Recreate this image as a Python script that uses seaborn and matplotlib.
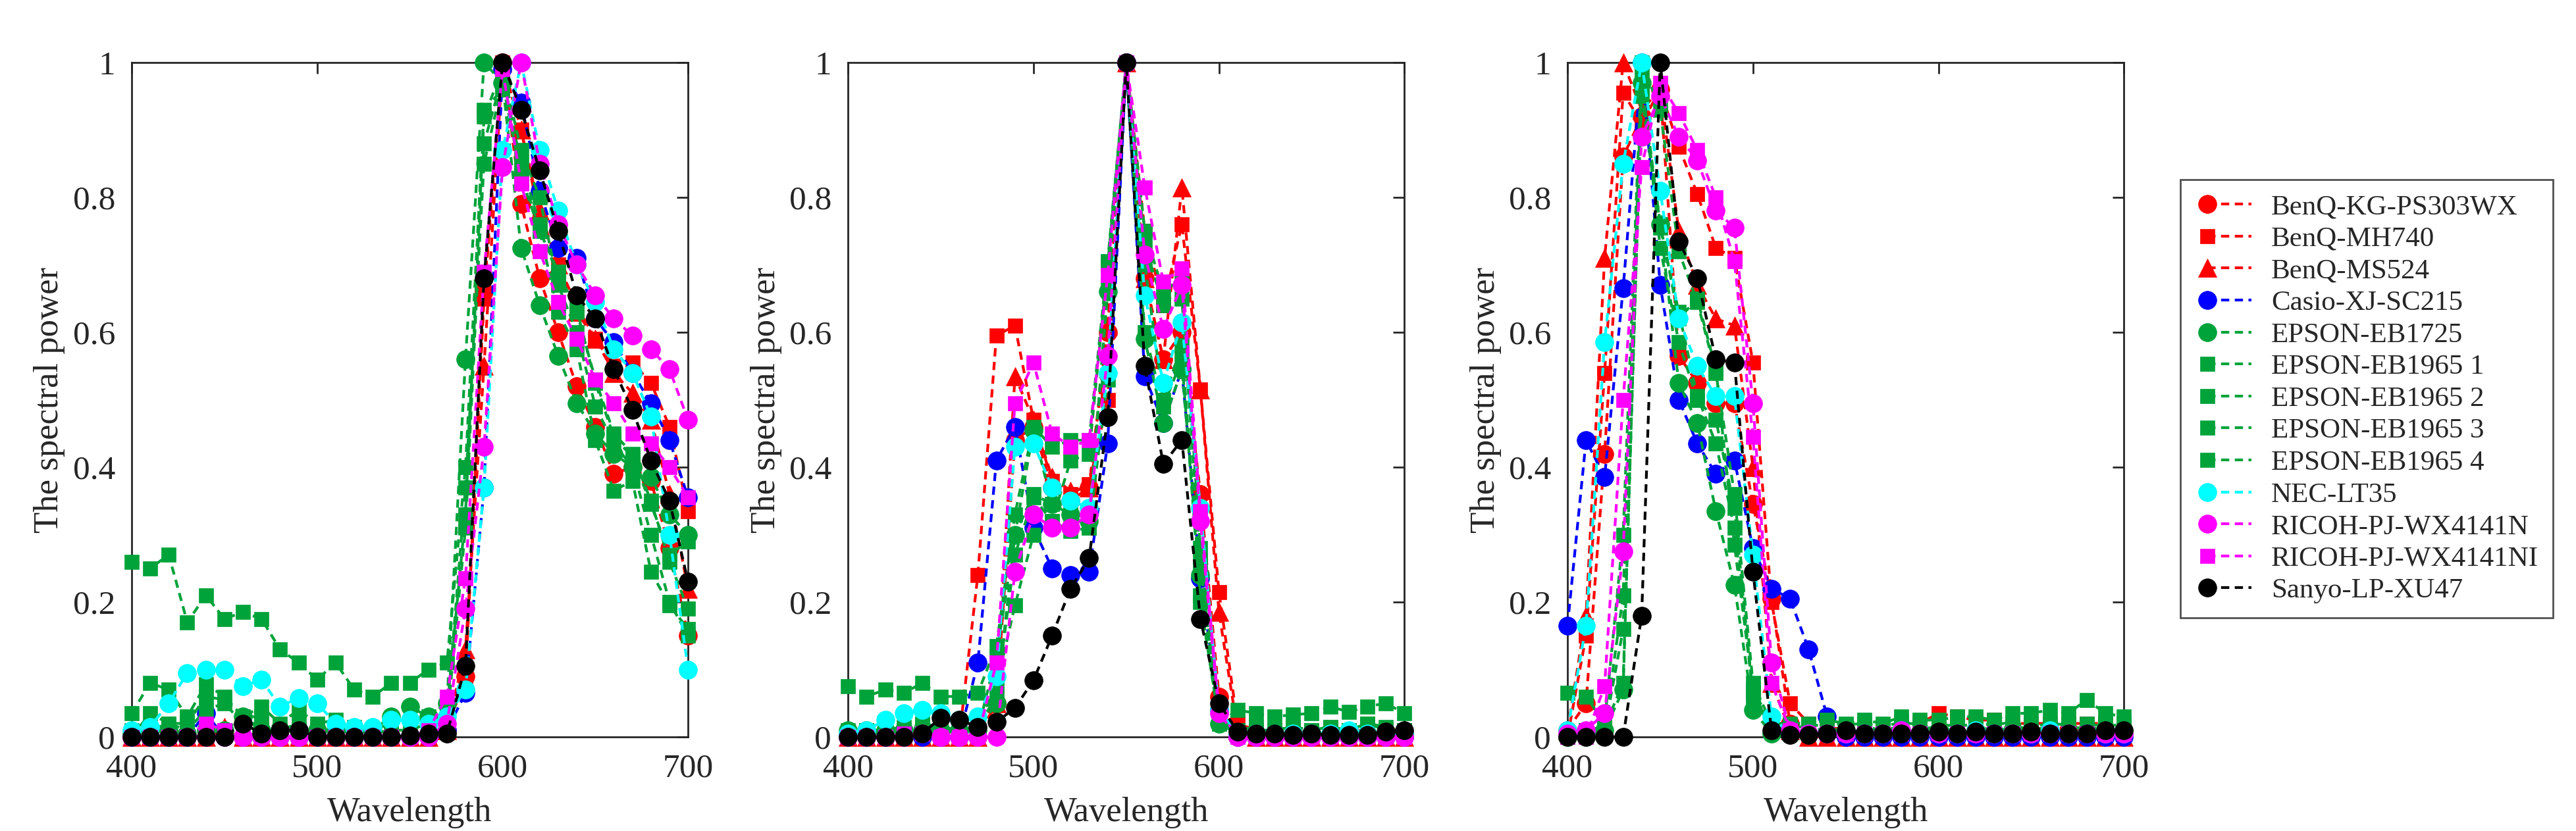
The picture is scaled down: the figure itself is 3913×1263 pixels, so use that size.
"""
Normalised spectral power of 13 projectors, red / green / blue channels
"""

import matplotlib
matplotlib.use('Agg')
import matplotlib.pyplot as plt
from matplotlib.lines import Line2D
from matplotlib.legend_handler import HandlerLine2D
import seaborn as sns

# x axis (nm)
wavelength = [400, 410, 420, 430, 440, 450, 460, 470, 480, 490, 500,
              510, 520, 530, 540, 550, 560, 570, 580, 590, 600,
              610, 620, 630, 640, 650, 660, 670, 680, 690, 700]

projectors = ['BenQ-KG-PS303WX', 'BenQ-MH740', 'BenQ-MS524', 'Casio-XJ-SC215',
              'EPSON-EB1725', 'EPSON-EB1965 1', 'EPSON-EB1965 2', 'EPSON-EB1965 3',
              'EPSON-EB1965 4', 'NEC-LT35', 'RICOH-PJ-WX4141N', 'RICOH-PJ-WX4141NI',
              'Sanyo-LP-XU47']

# ---- panel 1 (red channel) ----
p1_benq_kg = [0, 0, 0, 0, 0, 0, 0, 0, 0, 0, 0, 0, 0, 0, 0, 0, 0, 0.01, 0.09, 0.66, 1.00,
              0.79, 0.68, 0.60, 0.52, 0.46, 0.39, 0.40, 0.38, 0.28, 0.15]
p1_benq_mh = [0, 0, 0, 0, 0, 0.01, 0, 0, 0, 0, 0, 0, 0, 0, 0, 0, 0, 0.01, 0.09, 0.65, 1.00,
              0.90, 0.77, 0.70, 0.64, 0.59, 0.55, 0.555, 0.525, 0.46, 0.335]
p1_benq_ms = [0, 0, 0, 0, 0, 0.015, 0, 0, 0, 0, 0, 0, 0, 0, 0, 0, 0, 0.01, 0.13, 0.55, 1.00,
              0.90, 0.78, 0.70, 0.63, 0.59, 0.54, 0.51, 0.47, 0.36, 0.22]
p1_casio = [0, 0, 0, 0, 0.035, 0, 0, 0, 0, 0, 0, 0, 0, 0, 0, 0, 0, 0.01, 0.065, 0.37, 0.99,
            0.94, 0.81, 0.725, 0.71, 0.62, 0.585, 0.54, 0.495, 0.44, 0.355]
p1_eb1725 = [0.005, 0.01, 0.01, 0.005, 0.01, 0.01, 0.03, 0.01, 0.01, 0.01, 0.01, 0.01, 0.01, 0.01,
             0.03, 0.045, 0.03, 0.05, 0.56, 1.00, 0.97, 0.725, 0.64, 0.565, 0.495, 0.45, 0.42,
             0.40, 0.385, 0.33, 0.30]
p1_eb1965_1 = [0.26, 0.25, 0.27, 0.17, 0.21, 0.175, 0.185, 0.175, 0.13, 0.11, 0.085, 0.11, 0.07,
               0.06, 0.08, 0.08, 0.10, 0.11, 0.40, 0.93, 0.96, 0.84, 0.75, 0.69, 0.63, 0.53, 0.45,
               0.42, 0.35, 0.26, 0.19]
p1_eb1965_2 = [0.035, 0.08, 0.07, 0.03, 0.078, 0.06, 0.03, 0.045, 0.02, 0.04, 0.02, 0.025, 0.015,
               0.01, 0.02, 0.02, 0.03, 0.04, 0.33, 0.92, 0.99, 0.87, 0.80, 0.67, 0.60, 0.49, 0.435,
               0.40, 0.30, 0.20, 0.15]
p1_eb1965_3 = [0.0, 0.035, 0.02, 0.02, 0.06, 0.055, 0.03, 0.03, 0.01, 0.02, 0.01, 0.01, 0.01,
               0.005, 0.01, 0.01, 0.02, 0.03, 0.37, 0.85, 0.97, 0.83, 0.75, 0.63, 0.575, 0.44,
               0.365, 0.38, 0.245, 0.195, 0.16]
p1_eb1965_4 = [0.01, 0.01, 0.02, 0.01, 0.04, 0.05, 0.02, 0.02, 0.01, 0.01, 0.01, 0.01, 0.005,
               0.005, 0.01, 0.01, 0.02, 0.02, 0.31, 0.88, 0.98, 0.85, 0.76, 0.68, 0.635, 0.525,
               0.445, 0.415, 0.345, 0.27, 0.29]
p1_nec = [0.01, 0.015, 0.05, 0.095, 0.10, 0.10, 0.075, 0.085, 0.045, 0.058, 0.05, 0.02, 0.015,
          0.015, 0.025, 0.025, 0.02, 0.03, 0.07, 0.37, 0.87, 1.00, 0.87, 0.78, 0.70, 0.645, 0.575,
          0.54, 0.475, 0.30, 0.10]
p1_ricoh_n = [0, 0, 0, 0, 0, 0, 0, 0, 0, 0, 0, 0, 0, 0, 0, 0, 0, 0.02, 0.19, 0.43, 0.845, 1.00,
              0.85, 0.76, 0.70, 0.655, 0.62, 0.595, 0.575, 0.545, 0.47]
p1_ricoh_ni = [0, 0, 0, 0, 0.02, 0.01, 0, 0, 0, 0, 0, 0, 0, 0, 0, 0, 0.01, 0.06, 0.235, 0.69,
               0.99, 0.82, 0.72, 0.645, 0.59, 0.53, 0.495, 0.45, 0.435, 0.40, 0.355]
p1_sanyo = [0, 0, 0, 0, 0, 0, 0.02, 0.005, 0.01, 0.01, 0, 0, 0, 0, 0, 0.002, 0.005, 0.005, 0.105,
            0.68, 1.00, 0.93, 0.84, 0.75, 0.655, 0.62, 0.545, 0.485, 0.41, 0.35, 0.23]

# ---- panel 2 (green channel) ----
p2_benq_kg = [0, 0, 0, 0, 0, 0, 0, 0, 0.05, 0.44, 0.46, 0.37, 0.35, 0.37, 0.60, 1.00, 0.68, 0.56,
              0.60, 0.36, 0.06, 0, 0, 0, 0, 0, 0, 0, 0, 0, 0]
p2_benq_mh = [0, 0, 0, 0, 0, 0, 0, 0.24, 0.595, 0.61, 0.47, 0.38, 0.36, 0.375, 0.50, 1.00, 0.75,
              0.64, 0.76, 0.515, 0.215, 0.02, 0.01, 0.01, 0.005, 0.01, 0.01, 0.01, 0.01, 0.01, 0.01]
p2_benq_ms = [0, 0, 0, 0, 0, 0, 0, 0, 0.05, 0.535, 0.47, 0.385, 0.365, 0.37, 0.61, 1.00, 0.68,
              0.56, 0.815, 0.515, 0.185, 0.01, 0, 0, 0, 0, 0, 0, 0, 0, 0]
p2_casio = [0, 0, 0, 0, 0, 0, 0, 0.11, 0.41, 0.46, 0.31, 0.25, 0.24, 0.245, 0.435, 1.00, 0.535,
            0.465, 0.545, 0.235, 0.04, 0, 0, 0, 0, 0, 0, 0, 0, 0, 0]
p2_eb1725 = [0.01, 0.01, 0.01, 0.01, 0.01, 0.01, 0.01, 0.01, 0.05, 0.30, 0.455, 0.345, 0.33, 0.32,
             0.66, 1.00, 0.59, 0.465, 0.545, 0.24, 0.02, 0.005, 0.005, 0.005, 0.005, 0.005, 0.005,
             0.005, 0.005, 0.005, 0.005]
p2_eb1965_1 = [0.075, 0.06, 0.07, 0.065, 0.08, 0.06, 0.06, 0.065, 0.135, 0.33, 0.46, 0.43, 0.44,
               0.44, 0.705, 1.00, 0.75, 0.66, 0.68, 0.28, 0.02, 0.04, 0.035, 0.03, 0.033, 0.035,
               0.045, 0.037, 0.045, 0.05, 0.035]
p2_eb1965_2 = [0.01, 0.01, 0.01, 0.015, 0.02, 0.015, 0.01, 0.02, 0.075, 0.195, 0.30, 0.32, 0.305,
               0.31, 0.53, 1.00, 0.60, 0.49, 0.56, 0.20, 0.025, 0.01, 0.015, 0.01, 0.015, 0.01,
               0.015, 0.01, 0.02, 0.01, 0.01]
p2_eb1965_3 = [0.005, 0.005, 0.005, 0.01, 0.01, 0.01, 0.005, 0.01, 0.12, 0.30, 0.36, 0.345, 0.33,
               0.31, 0.67, 1.00, 0.73, 0.64, 0.65, 0.26, 0.02, 0.005, 0.005, 0.005, 0.01, 0.005,
               0.005, 0.01, 0.005, 0.005, 0.005]
p2_eb1965_4 = [0.005, 0.01, 0.005, 0.01, 0.02, 0.01, 0.01, 0.015, 0.06, 0.27, 0.355, 0.32, 0.41,
               0.42, 0.70, 1.00, 0.70, 0.50, 0.58, 0.21, 0.02, 0.01, 0.01, 0.01, 0.015, 0.01, 0.015,
               0.01, 0.02, 0.015, 0.01]
p2_nec = [0.005, 0.01, 0.025, 0.035, 0.04, 0.035, 0.025, 0.03, 0.09, 0.43, 0.435, 0.37, 0.35,
          0.34, 0.54, 1.00, 0.655, 0.525, 0.615, 0.34, 0.04, 0.005, 0.005, 0.005, 0.005, 0.005,
          0.005, 0.01, 0.005, 0.005, 0.005]
p2_ricoh_n = [0, 0, 0, 0, 0.005, 0, 0, 0, 0, 0.245, 0.33, 0.31, 0.31, 0.33, 0.565, 1.00, 0.715,
              0.605, 0.67, 0.32, 0.035, 0, 0, 0, 0, 0, 0, 0, 0, 0, 0]
p2_ricoh_ni = [0, 0, 0, 0.005, 0.005, 0, 0, 0, 0.11, 0.495, 0.555, 0.45, 0.43, 0.44, 0.685, 1.00,
               0.815, 0.675, 0.695, 0.335, 0.04, 0, 0, 0, 0, 0, 0, 0, 0, 0, 0]
p2_sanyo = [0, 0, 0, 0, 0.005, 0.028, 0.025, 0.015, 0.022, 0.043, 0.084, 0.15, 0.22, 0.265, 0.474,
            1.00, 0.55, 0.405, 0.44, 0.175, 0.05, 0.008, 0.005, 0.005, 0.003, 0.005, 0.003, 0.003,
            0.003, 0.008, 0.01]

# ---- panel 3 (blue channel) ----
p3_benq_kg = [0.01, 0.05, 0.42, 0.86, 0.92, 0.96, 0.565, 0.525, 0.495, 0.495, 0.345, 0.205, 0.02,
              0.005, 0.005, 0, 0.005, 0.005, 0.01, 0.005, 0.01, 0.005, 0.01, 0.005, 0.005, 0.005,
              0.005, 0.01, 0.005, 0.005, 0.005]
p3_benq_mh = [0, 0.15, 0.54, 0.955, 0.91, 0.96, 0.875, 0.805, 0.725, 0.71, 0.555, 0.20, 0.05, 0.02,
              0.015, 0.01, 0.01, 0.01, 0.015, 0.02, 0.035, 0.03, 0.025, 0.025, 0.02, 0.02, 0.02,
              0.02, 0.02, 0.02, 0.015]
p3_benq_ms = [0.01, 0.18, 0.71, 1.00, 0.93, 0.96, 0.75, 0.67, 0.62, 0.61, 0.40, 0.08, 0.01, 0, 0,
              0, 0, 0, 0, 0, 0, 0, 0, 0, 0, 0, 0, 0, 0, 0, 0]
p3_casio = [0.165, 0.44, 0.385, 0.665, 1.00, 0.67, 0.50, 0.435, 0.39, 0.41, 0.28, 0.22, 0.205,
            0.13, 0.03, 0, 0, 0, 0, 0, 0, 0, 0, 0, 0, 0, 0, 0, 0, 0, 0]
p3_eb1725 = [0, 0, 0.01, 0.07, 0.97, 0.76, 0.525, 0.465, 0.335, 0.225, 0.04, 0.005, 0.005, 0.005,
             0.005, 0.01, 0.005, 0.005, 0.01, 0.005, 0.01, 0.005, 0.008, 0.005, 0.01, 0.005, 0.01,
             0.005, 0.008, 0.005, 0.01]
p3_eb1965_1 = [0.065, 0.06, 0.02, 0.30, 1.00, 0.93, 0.72, 0.645, 0.54, 0.36, 0.08, 0.02, 0.02,
               0.02, 0.025, 0.02, 0.025, 0.02, 0.03, 0.025, 0.025, 0.03, 0.03, 0.025, 0.035, 0.035,
               0.04, 0.035, 0.055, 0.035, 0.03]
p3_eb1965_2 = [0, 0.005, 0.01, 0.16, 0.95, 0.755, 0.63, 0.505, 0.435, 0.31, 0.065, 0.01, 0.01,
               0.012, 0.01, 0.01, 0.015, 0.01, 0.015, 0.012, 0.015, 0.01, 0.015, 0.01, 0.018, 0.01,
               0.015, 0.012, 0.015, 0.01, 0.01]
p3_eb1965_3 = [0.005, 0.01, 0.01, 0.21, 0.98, 0.725, 0.585, 0.50, 0.47, 0.34, 0.06, 0.015, 0.01,
               0.01, 0.012, 0.01, 0.01, 0.012, 0.01, 0.01, 0.012, 0.01, 0.01, 0.012, 0.01, 0.01,
               0.012, 0.01, 0.01, 0.012, 0.01]
p3_eb1965_4 = [0.005, 0.01, 0.015, 0.08, 0.96, 0.76, 0.62, 0.65, 0.545, 0.285, 0.07, 0.02, 0.015,
               0.015, 0.02, 0.018, 0.02, 0.015, 0.022, 0.018, 0.02, 0.015, 0.02, 0.018, 0.022,
               0.015, 0.02, 0.018, 0.02, 0.015, 0.02]
p3_nec = [0.01, 0.165, 0.585, 0.85, 1.00, 0.81, 0.62, 0.55, 0.505, 0.505, 0.27, 0.03, 0.005, 0.005,
          0.005, 0.005, 0.005, 0.005, 0.01, 0.005, 0.005, 0.005, 0.01, 0.005, 0.005, 0.005, 0.01,
          0.005, 0.005, 0.005, 0.005]
p3_ricoh_n = [0.005, 0.01, 0.035, 0.275, 0.89, 0.95, 0.89, 0.855, 0.78, 0.755, 0.495, 0.11, 0.01,
              0.005, 0.005, 0.005, 0.005, 0.005, 0.01, 0.005, 0.005, 0.005, 0.005, 0.005, 0.005,
              0.005, 0.005, 0.005, 0.005, 0.005, 0.005]
p3_ricoh_ni = [0, 0, 0.075, 0.50, 0.845, 0.97, 0.925, 0.87, 0.80, 0.705, 0.445, 0.08, 0.01, 0.005,
               0.005, 0.005, 0.005, 0.005, 0.005, 0.005, 0.005, 0.005, 0.005, 0.005, 0.005, 0.005,
               0.005, 0.005, 0.005, 0.005, 0.005]
p3_sanyo = [0, 0, 0, 0, 0.18, 1.00, 0.735, 0.68, 0.56, 0.555, 0.245, 0.01, 0.003, 0.003, 0.005,
            0.01, 0.005, 0.005, 0.005, 0.005, 0.008, 0.005, 0.008, 0.005, 0.005, 0.008, 0.005,
            0.005, 0.005, 0.01, 0.01]

panel1 = [p1_benq_kg, p1_benq_mh, p1_benq_ms, p1_casio, p1_eb1725, p1_eb1965_1, p1_eb1965_2,
          p1_eb1965_3, p1_eb1965_4, p1_nec, p1_ricoh_n, p1_ricoh_ni, p1_sanyo]
panel2 = [p2_benq_kg, p2_benq_mh, p2_benq_ms, p2_casio, p2_eb1725, p2_eb1965_1, p2_eb1965_2,
          p2_eb1965_3, p2_eb1965_4, p2_nec, p2_ricoh_n, p2_ricoh_ni, p2_sanyo]
panel3 = [p3_benq_kg, p3_benq_mh, p3_benq_ms, p3_casio, p3_eb1725, p3_eb1965_1, p3_eb1965_2,
          p3_eb1965_3, p3_eb1965_4, p3_nec, p3_ricoh_n, p3_ricoh_ni, p3_sanyo]

# styling
GREEN = '#00A33A'
colors = ['#FF0000', '#FF0000', '#FF0000', '#0000FF', GREEN, GREEN, GREEN, GREEN, GREEN,
          '#00FFFF', '#FF00FF', '#FF00FF', '#000000']
markers = ['o', 's', '^', 'o', 'o', 's', 's', 's', 's', 'o', 'o', 's', 'o']
marker_sizes = {'o': 20, 's': 16, '^': 20}
INK = '#262626'


class MarkerFirstHandler(HandlerLine2D):
    """MATLAB-like legend entry: marker at the left, dashed line to the right"""
    def create_artists(self, legend, orig_handle, xdescent, ydescent, width, height,
                       fontsize, trans):
        y = (height - ydescent) / 2
        x0 = -xdescent + 0.22 * width
        x1 = -xdescent + width
        line = Line2D([x0, x1], [y, y])
        self.update_prop(line, orig_handle, legend)
        line.set_marker('None')
        mk = Line2D([x0], [y])
        self.update_prop(mk, orig_handle, legend)
        mk.set_linestyle('None')
        line.set_transform(trans)
        mk.set_transform(trans)
        return [line, mk]


sns.set_theme(style='white')
plt.rcParams['font.family'] = ['Liberation Serif', 'DejaVu Serif']
plt.rcParams['axes.linewidth'] = 2.0
plt.rcParams['axes.edgecolor'] = INK

fig = plt.figure(figsize=(39.13, 12.63), dpi=100)
lefts = [0.0511, 0.3292, 0.6085]
handles = []
for left, panel in zip(lefts, [panel1, panel2, panel3]):
    ax = fig.add_axes([left, 0.1132, 0.216, 0.8116])
    handles = []
    for name, vals, c, m in zip(projectors, panel, colors, markers):
        sns.lineplot(x=wavelength, y=vals, ax=ax, color=c, marker=m,
                     markersize=marker_sizes[m], markeredgecolor=c, markeredgewidth=0.5,
                     linewidth=3, linestyle='--', legend=False, clip_on=False)
        line = ax.lines[-1]
        line.set_dashes((3, 2))
        line.set_label(name)
        handles.append(line)

    ax.set_xlim(400, 700)
    ax.set_ylim(0, 1)
    ax.set_xticks([400, 500, 600, 700])
    ax.set_yticks([0, 0.2, 0.4, 0.6, 0.8, 1.0])
    ax.set_yticklabels(['0', '0.2', '0.4', '0.6', '0.8', '1'])
    ax.tick_params(direction='in', length=12, width=2, top=True, right=True,
                   labelsize=37, pad=18, colors=INK, labelcolor=INK)
    ax.set_xlabel('Wavelength', fontsize=38, color=INK, labelpad=14)
    ax.set_ylabel('The spectral power', fontsize=38, color=INK, labelpad=8)
    for sp in ax.spines.values():
        sp.set_visible(True)
        sp.set_zorder(0)

leg = fig.legend(handles, projectors, loc='center left', bbox_to_anchor=(0.841, 0.52),
                 frameon=True, fancybox=False, edgecolor=INK, fontsize=31,
                 handlelength=2.0, labelspacing=0.22, borderpad=0.5, handletextpad=0.7,
                 handler_map={Line2D: MarkerFirstHandler()})
leg.get_frame().set_linewidth(2)

fig.savefig('out.png', dpi=100, facecolor='white')
